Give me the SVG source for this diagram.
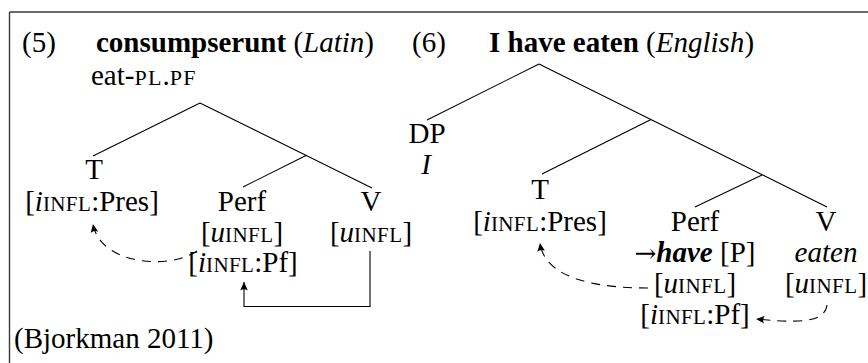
<svg xmlns="http://www.w3.org/2000/svg" width="868" height="363" viewBox="0 0 868 363">
  <style>
    text { font-family: "Liberation Serif", "Times New Roman", serif; font-size: 29px; fill: #000; }
    .c { text-anchor: middle; }
    .sc { font-size: 21px; letter-spacing: 0.4px; }
    .sc2 { font-size: 22px; letter-spacing: 1.2px; }
    .arr { font-family: "DejaVu Serif", serif; font-size: 26px; }
    .it { font-style: italic; }
    .b { font-weight: bold; }
    .edge { stroke: #000; stroke-width: 1.1; fill: none; }
    .dash { stroke: #000; stroke-width: 1.1; fill: none; stroke-dasharray: 9 7; }
    .frame { stroke: #3a3a3a; stroke-width: 1.4; fill: none; }
  </style>
  <defs>
    <marker id="tip" markerUnits="userSpaceOnUse" markerWidth="12" markerHeight="12" viewBox="-8 -5 10 10" refX="0" refY="0" orient="auto">
      <path d="M0,0 L-7,-3.2 Q-5,0 -7,3.2 Z" fill="#000"/>
    </marker>
  </defs>

  <rect width="868" height="363" fill="#fff"/>

  <!-- frame (top and left rules) -->
  <path class="frame" d="M9.5,12 H868 M9.5,12 V363"/>

  <!-- headings -->
  <g id="heading5">
    <text x="22" y="52">(5)</text>
    <text x="96" y="52"><tspan class="b">consumpserunt</tspan> (<tspan class="it">Latin</tspan>)</text>
    <text x="91" y="85">eat-<tspan class="sc2">PL</tspan>.<tspan class="sc2">PF</tspan></text>
  </g>
  <g id="heading6">
    <text x="412" y="52">(6)</text>
    <text x="489" y="52"><tspan class="b">I have eaten</tspan> (<tspan class="it">English</tspan>)</text>
  </g>

  <!-- tree (5) nodes -->
  <g id="l-T">
    <text class="c" x="94" y="179">T</text>
    <text class="c" x="92" y="211">[<tspan class="it">i</tspan><tspan class="sc">INFL</tspan>:Pres]</text>
  </g>
  <g id="l-Perf">
    <text class="c" x="242" y="211">Perf</text>
    <text class="c" x="242" y="242">[<tspan class="it">u</tspan><tspan class="sc">INFL</tspan>]</text>
    <text class="c" x="243" y="272">[<tspan class="it">i</tspan><tspan class="sc">INFL</tspan>:Pf]</text>
  </g>
  <g id="l-V">
    <text class="c" x="371" y="211">V</text>
    <text class="c" x="371" y="242">[<tspan class="it">u</tspan><tspan class="sc">INFL</tspan>]</text>
  </g>

  <!-- tree (6) nodes -->
  <g id="r-DP">
    <text class="c" x="427" y="143">DP</text>
    <text class="c it" x="426" y="174">I</text>
  </g>
  <g id="r-T">
    <text class="c" x="540" y="199">T</text>
    <text class="c" x="540" y="231">[<tspan class="it">i</tspan><tspan class="sc">INFL</tspan>:Pres]</text>
  </g>
  <g id="r-Perf">
    <text class="c" x="695" y="231">Perf</text>
    <text class="c" x="695" y="262"><tspan class="arr">→</tspan><tspan class="b it">have</tspan> [P]</text>
    <text class="c" x="695" y="293">[<tspan class="it">u</tspan><tspan class="sc">INFL</tspan>]</text>
    <text class="c" x="695" y="324">[<tspan class="it">i</tspan><tspan class="sc">INFL</tspan>:Pf]</text>
  </g>
  <g id="r-V">
    <text class="c" x="826" y="231">V</text>
    <text class="c it" x="826" y="262">eaten</text>
    <text class="c" x="826" y="293">[<tspan class="it">u</tspan><tspan class="sc">INFL</tspan>]</text>
  </g>

  <g id="citation">
    <text x="14" y="348">(Bjorkman 2011)</text>
  </g>

  <!-- connectors: tree branches and agreement arrows -->
  <g id="connectors">
    <path class="edge" d="M200,103 L93,156 M200,103 L372,188 M306,155.5 L243,187"/>
    <path class="edge" d="M539,64 L427,120 M539,64 L827,207 M651,119.5 L542,174 M762,175 L695,207"/>
    <path class="dash" d="M197,251 C170,270 100,265 93,224" marker-end="url(#tip)"/>
    <path class="edge" d="M370,251 V306.5 H244 V282" marker-end="url(#tip)"/>
    <path class="dash" d="M648,288 C600,288 545,280 540,243" marker-end="url(#tip)"/>
    <path class="dash" d="M827,305 C825,325 790,322 756,319" marker-end="url(#tip)"/>
  </g>
</svg>
